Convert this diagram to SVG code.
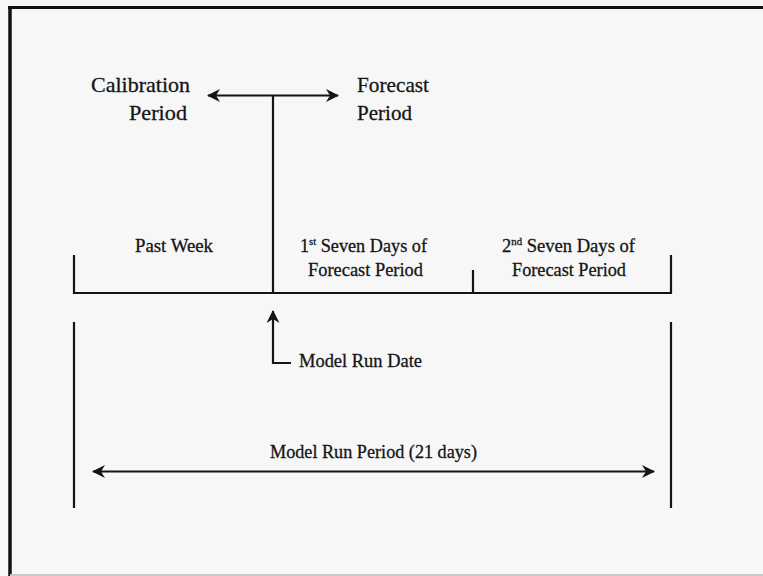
<svg xmlns="http://www.w3.org/2000/svg" width="763" height="576" viewBox="0 0 763 576">
<style>
  text { font-family: "Liberation Serif", "Times New Roman", serif; fill: #151515; stroke: #151515; stroke-width: 0.3; }
  .big { font-size: 22px; }
  .mid { font-size: 19px; }
  .sup { font-size: 11px; }
  .ln { stroke: #151515; stroke-width: 2.2; fill: none; }
</style>
<defs>
  <marker id="ah" viewBox="0 0 13 13" refX="12" refY="6.5" markerWidth="13" markerHeight="13" markerUnits="userSpaceOnUse" orient="auto-start-reverse">
    <path d="M0,0 L13,6.5 L0,13 L4,6.5 z" fill="#151515"/>
  </marker>
</defs>
<rect x="0" y="0" width="763" height="576" fill="#f7f7f7"/>
<g id="frame">
  <line x1="8" y1="7.5" x2="763" y2="7.5" stroke="#111" stroke-width="3"/>
  <line x1="10" y1="6" x2="10" y2="576" stroke="#111" stroke-width="3.5"/>
  <line x1="10" y1="575" x2="763" y2="575" stroke="#c8c8c8" stroke-width="2"/>
</g>
<g id="connectors">
  <line class="ln" x1="273" y1="95.5" x2="273" y2="293"/>
  <line class="ln" x1="208" y1="95.5" x2="338" y2="95.5" marker-start="url(#ah)" marker-end="url(#ah)"/>
  <path class="ln" d="M74,255 V293 H671 V255"/>
  <line class="ln" x1="473" y1="270" x2="473" y2="293"/>
  <path class="ln" d="M291,363 H273 V311" marker-end="url(#ah)"/>
  <line class="ln" x1="74" y1="322" x2="74" y2="508"/>
  <line class="ln" x1="671" y1="322" x2="671" y2="508"/>
  <line class="ln" x1="93" y1="471.5" x2="654" y2="471.5" marker-start="url(#ah)" marker-end="url(#ah)"/>
</g>
<g id="calibration">
  <text class="big" x="91" y="92" textLength="99" lengthAdjust="spacingAndGlyphs">Calibration</text>
  <text class="big" x="129" y="120" textLength="58" lengthAdjust="spacingAndGlyphs">Period</text>
</g>
<g id="forecast">
  <text class="big" x="357" y="92" textLength="72" lengthAdjust="spacingAndGlyphs">Forecast</text>
  <text class="big" x="357" y="120" textLength="55" lengthAdjust="spacingAndGlyphs">Period</text>
</g>
<g id="past-week">
  <text class="mid" x="135" y="252" textLength="78" lengthAdjust="spacingAndGlyphs">Past Week</text>
</g>
<g id="first-seven">
  <text class="mid" x="300" y="252" textLength="127" lengthAdjust="spacingAndGlyphs">1<tspan class="sup" dy="-7">st</tspan><tspan dy="7"> Seven Days of</tspan></text>
  <text class="mid" x="308" y="276" textLength="115" lengthAdjust="spacingAndGlyphs">Forecast Period</text>
</g>
<g id="second-seven">
  <text class="mid" x="502" y="252" textLength="133" lengthAdjust="spacingAndGlyphs">2<tspan class="sup" dy="-7">nd</tspan><tspan dy="7"> Seven Days of</tspan></text>
  <text class="mid" x="512" y="276" textLength="114" lengthAdjust="spacingAndGlyphs">Forecast Period</text>
</g>
<g id="model-run-date">
  <text class="mid" x="299" y="367" textLength="123" lengthAdjust="spacingAndGlyphs">Model Run Date</text>
</g>
<g id="model-run-period">
  <text class="mid" x="270" y="458" textLength="207" lengthAdjust="spacingAndGlyphs">Model Run Period (21 days)</text>
</g>
</svg>
